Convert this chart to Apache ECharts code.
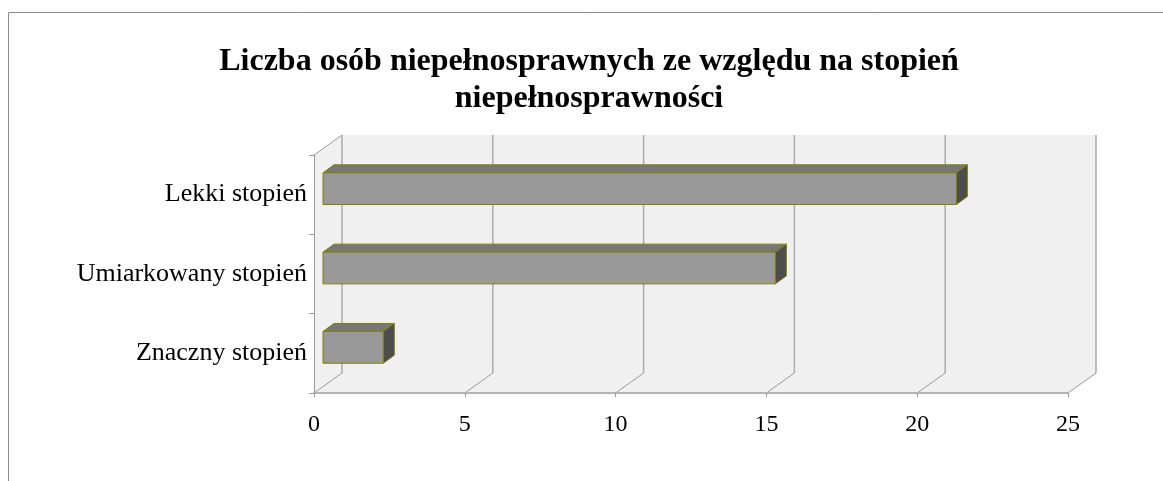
<!DOCTYPE html>
<html>
<head>
<meta charset="utf-8">
<script src="https://cdn.jsdelivr.net/npm/echarts@6/dist/echarts.min.js"></script>
<style>
html,body{margin:0;padding:0;background:#fff;}
#main{width:1163px;height:481px;}
</style>
</head>
<body>
<div id="main"></div>
<script>
const titleText = 'Liczba osób niepełnosprawnych ze względu na stopień\nniepełnosprawności';
const categories = ['Lekki stopień', 'Umiarkowany stopień', 'Znaczny stopień'];
const values = [21, 15, 2];
const tickValues = [0, 5, 10, 15, 20, 25];

const DX = 28, DY = -20;        // depth of the 3D box
const SERIF = '"Liberation Serif", "Times New Roman", serif';

const chart = echarts.init(document.getElementById('main'), null, {renderer: 'canvas'});

const option = {
  backgroundColor: '#ffffff',
  animation: false,
  graphic: [
    {type: 'rect', shape: {x: 8.5, y: 12.5, width: 1300, height: 700},
     style: {fill: 'none', stroke: '#8c8c8c', lineWidth: 1}, silent: true, z: 0},
    {type: 'text', x: 589, y: 43, z: 10,
     style: {text: titleText, fontFamily: SERIF, fontSize: 32, fontWeight: 'bold',
             fill: '#000', textAlign: 'center', textVerticalAlign: 'top', lineHeight: 37}}
  ],
  grid: {left: 314, right: 95, top: 155, bottom: 88, containLabel: false},
  xAxis: {
    type: 'value', min: 0, max: 25, interval: 5, z: 3,
    axisLine: {show: true, lineStyle: {color: '#b4b4b4', width: 2}},
    axisTick: {show: true, length: 4, lineStyle: {color: '#999', width: 1}},
    splitLine: {show: false},
    axisLabel: {fontFamily: SERIF, fontSize: 24, color: '#000', margin: 20}
  },
  yAxis: {
    type: 'category', data: categories, inverse: true, z: 3,
    axisLine: {show: true, lineStyle: {color: '#9a9a9a', width: 1}},
    axisTick: {show: true, length: 5, lineStyle: {color: '#9a9a9a', width: 1}},
    axisLabel: {fontFamily: SERIF, fontSize: 26, color: '#000', margin: 7}
  },
  series: [
    {
      type: 'custom', z: 1, silent: true,
      data: tickValues.map(v => [v, 0]),
      encode: {x: 0, y: 1},
      renderItem: function (params, api) {
        const cs = params.coordSys;
        const x = api.coord([api.value(0), 0])[0];
        const yTop = cs.y, yBot = cs.y + cs.height;
        const children = [];
        if (params.dataIndex === 0) {
          children.push({
            type: 'polygon', z2: 0,
            shape: {points: [[cs.x, yTop], [cs.x + DX, yTop + DY], [cs.x + cs.width + DX, yTop + DY],
                             [cs.x + cs.width + DX, yBot + DY], [cs.x + cs.width, yBot], [cs.x, yBot]]},
            style: {fill: '#f0f0f0', stroke: 'none'}
          });
          children.push({
            type: 'line', z2: 1,
            shape: {x1: cs.x, y1: yTop, x2: cs.x + DX, y2: yTop + DY},
            style: {stroke: '#9a9a9a', lineWidth: 1}
          });
        }
        children.push({
          type: 'line', z2: 1,
          shape: {x1: x + DX, y1: yTop + DY, x2: x + DX, y2: yBot + DY},
          style: {stroke: '#ababab', lineWidth: 1.5}
        });
        children.push({
          type: 'line', z2: 1,
          shape: {x1: x + DX, y1: yBot + DY, x2: x, y2: yBot},
          style: {stroke: '#9a9a9a', lineWidth: 1}
        });
        return {type: 'group', children: children};
      }
    },
    {
      type: 'custom', z: 4,
      data: values.map((v, i) => [v, i]),
      encode: {x: 0, y: 1},
      renderItem: function (params, api) {
        const v = api.value(0), i = api.value(1);
        const s = api.coord([0, i]);
        const e = api.coord([v, i]);
        const band = api.size([0, 1])[1];
        const h = band * 0.4;
        const ox = 9, oy = -6;
        const bx = 11, by = -8;
        const x0 = s[0] + ox, x1 = e[0] + ox;
        const y0 = s[1] + oy - h / 2, y1 = s[1] + oy + h / 2;
        const stroke = {stroke: '#808000', lineWidth: 1, lineJoin: 'miter'};
        return {
          type: 'group',
          children: [
            {type: 'polygon', shape: {points: [[x0, y0], [x0 + bx, y0 + by], [x1 + bx, y0 + by], [x1, y0]]},
             style: Object.assign({fill: '#777777'}, stroke)},
            {type: 'polygon', shape: {points: [[x1, y0], [x1 + bx, y0 + by], [x1 + bx, y1 + by], [x1, y1]]},
             style: Object.assign({fill: '#4d4d4d'}, stroke)},
            {type: 'rect', shape: {x: x0, y: y0, width: x1 - x0, height: h},
             style: Object.assign({fill: '#999999'}, stroke)}
          ]
        };
      }
    }
  ]
};
chart.setOption(option);
</script>
</body>
</html>
